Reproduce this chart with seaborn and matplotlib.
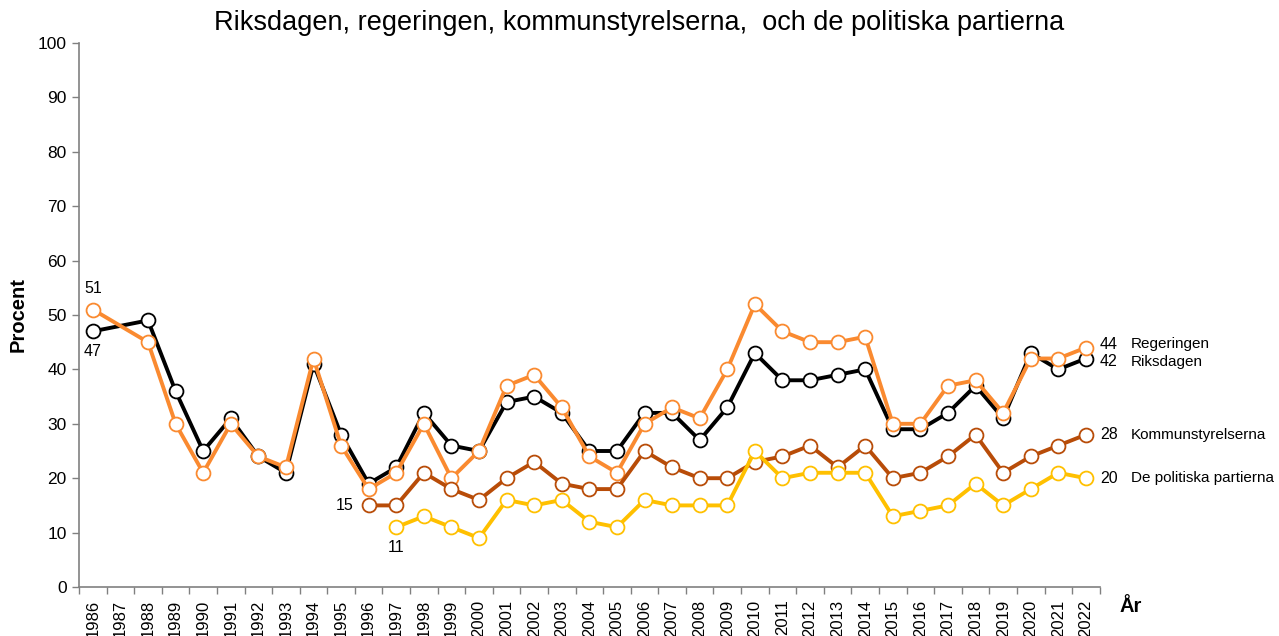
"""
Förtroende för riksdagen, regeringen, kommunstyrelserna och partierna.
"""

import numpy as np
import pandas as pd
import matplotlib
matplotlib.use("Agg")
import matplotlib.pyplot as plt
import seaborn as sns

years = list(range(1986, 2023))

# nan = no measurement that year
nan = np.nan
riksdagen = [47, nan, 49, 36, 25, 31, 24, 21, 41, 28, 19, 22, 32, 26, 25, 34, 35, 32, 25, 25,
             32, 32, 27, 33, 43, 38, 38, 39, 40, 29, 29, 32, 37, 31, 43, 40, 42]
regeringen = [51, nan, 45, 30, 21, 30, 24, 22, 42, 26, 18, 21, 30, 20, 25, 37, 39, 33, 24, 21,
              30, 33, 31, 40, 52, 47, 45, 45, 46, 30, 30, 37, 38, 32, 42, 42, 44]
kommunstyrelserna = [nan] * 10 + [15, 15, 21, 18, 16, 20, 23, 19, 18, 18,
                                  25, 22, 20, 20, 23, 24, 26, 22, 26, 20, 21, 24, 28, 21, 24, 26, 28]
partierna = [nan] * 11 + [11, 13, 11, 9, 16, 15, 16, 12, 11,
                          16, 15, 15, 15, 25, 20, 21, 21, 21, 13, 14, 15, 19, 15, 18, 21, 20]

series_names = ["Riksdagen", "Regeringen", "Kommunstyrelserna", "De politiska partierna"]
series_colors = ["#000000", "#FA8A30", "#B84C08", "#FFC000"]

df = pd.DataFrame({"year": years, "Riksdagen": riksdagen, "Regeringen": regeringen,
                   "Kommunstyrelserna": kommunstyrelserna, "De politiska partierna": partierna})
df["pos"] = np.arange(len(years))
long_df = df.melt(id_vars=["year", "pos"], var_name="serie", value_name="procent").dropna()

sns.set_style("white")
plt.rcParams["font.family"] = ["Liberation Sans", "DejaVu Sans"]
plt.rcParams["text.color"] = "black"
plt.rcParams["axes.labelcolor"] = "black"
plt.rcParams["xtick.color"] = "black"
plt.rcParams["ytick.color"] = "black"

fig = plt.figure(figsize=(12.79, 6.36), dpi=100)
ax = fig.add_axes([0.0618, 0.077, 0.798, 0.8555])

for name, color in zip(series_names, series_colors):
    sub = long_df[long_df["serie"] == name]
    sns.lineplot(data=sub, x="pos", y="procent", ax=ax, color=color, linewidth=2.8,
                 marker="o", markersize=10, markerfacecolor="white",
                 markeredgecolor=color, markeredgewidth=1.3, zorder=3)

ax.set_xlim(-0.5, len(years) - 0.5)
ax.set_ylim(0, 100)
ax.set_yticks(range(0, 101, 10))
ax.tick_params(axis="y", labelsize=12.5, length=5, width=1, color="#808080",
               labelcolor="black", left=True, pad=4)

ax.set_xticks(df["pos"])
ax.set_xticklabels([str(y) for y in years], rotation=90, fontsize=12)
ax.set_xticks(np.arange(-0.5, len(years)), minor=True)
ax.tick_params(axis="x", which="major", length=0, pad=9, labelcolor="black")
ax.tick_params(axis="x", which="minor", length=5, width=1, color="#808080", bottom=True)

for side in ["top", "right"]:
    ax.spines[side].set_visible(False)
for side in ["left", "bottom"]:
    ax.spines[side].set_color("#808080")
    ax.spines[side].set_linewidth(1.2)

ax.set_xlabel("")
ax.set_ylabel("Procent", fontsize=14.5, fontweight="bold", labelpad=7)
fig.text(0.884, 0.047, "År", fontsize=14.5, fontweight="bold", va="center", ha="center")

fig.suptitle("Riksdagen, regeringen, kommunstyrelserna,  och de politiska partierna",
             fontsize=19.5, y=0.985)

# value labels
last = len(years) - 1
end_values = [riksdagen[-1], regeringen[-1], kommunstyrelserna[-1], partierna[-1]]
end_offsets = [-2.5, 2.5, 0, 0]
for name, val, off in zip(series_names, end_values, end_offsets):
    ax.annotate(f"{val:g}", (last, val), xytext=(10, off), textcoords="offset points",
                fontsize=11.5, va="center", ha="left", annotation_clip=False)
    ax.annotate(name, (last, val), xytext=(32.5, off), textcoords="offset points",
                fontsize=11, va="center", ha="left", annotation_clip=False)

ax.annotate(f"{regeringen[0]:g}", (0, regeringen[0]), xytext=(0, 10), textcoords="offset points",
            fontsize=11.5, ha="center", va="bottom")
ax.annotate(f"{riksdagen[0]:g}", (0, riksdagen[0]), xytext=(0, -9), textcoords="offset points",
            fontsize=11.5, ha="center", va="top")
ax.annotate(f"{kommunstyrelserna[10]:g}", (10, kommunstyrelserna[10]), xytext=(-11, 0),
            textcoords="offset points", fontsize=11.5, ha="right", va="center")
ax.annotate(f"{partierna[11]:g}", (11, partierna[11]), xytext=(0, -9),
            textcoords="offset points", fontsize=11.5, ha="center", va="top")

fig.savefig("out.png", dpi=100)
